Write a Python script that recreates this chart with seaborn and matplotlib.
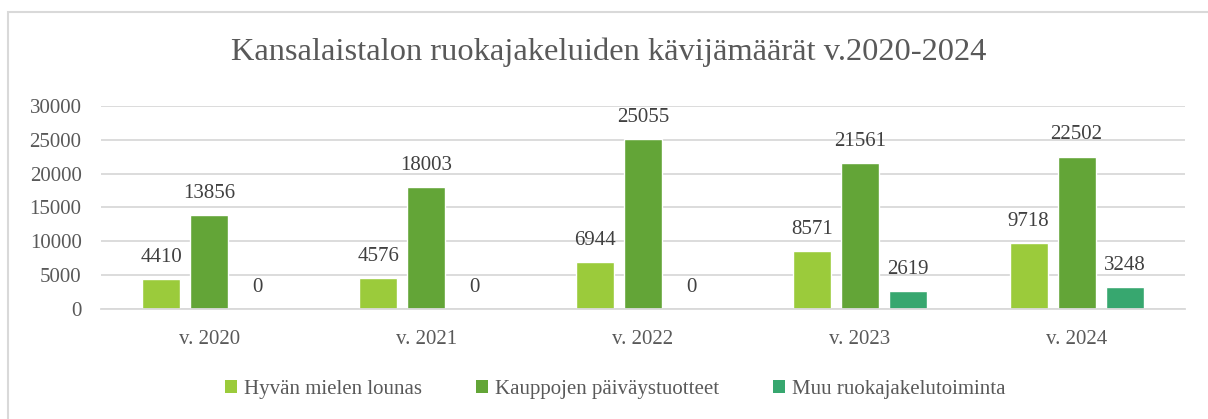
import matplotlib
matplotlib.use("Agg")
import matplotlib.pyplot as plt
import seaborn as sns
import pandas as pd
import numpy as np
from matplotlib.patches import Rectangle

years = ["v. 2020", "v. 2021", "v. 2022", "v. 2023", "v. 2024"]
series_names = ["Hyvän mielen lounas", "Kauppojen päiväystuotteet", "Muu ruokajakelutoiminta"]
lounas = [4410, 4576, 6944, 8571, 9718]
paivays = [13856, 18003, 25055, 21561, 22502]
muu = [0, 0, 0, 2619, 3248]
colors = ["#9BCB3B", "#63A537", "#37A76F"]
title = "Kansalaistalon ruokajakeluiden kävijämäärät v.2020-2024"

rows = []
for name, vals in zip(series_names, [lounas, paivays, muu]):
    for y, v in zip(years, vals):
        rows.append({"Vuosi": y, "Sarja": name, "Arvo": v})
df = pd.DataFrame(rows)

sns.set_theme(style="white")
plt.rcParams["font.family"] = ["Liberation Serif", "DejaVu Serif"]

W, H = 1208, 419
fig = plt.figure(figsize=(W / 100, H / 100), dpi=100)
ax = fig.add_axes([101 / W, 1 - 309 / H, (1185 - 101) / W, (309 - 106) / H])

sns.barplot(data=df, x="Vuosi", y="Arvo", hue="Sarja", hue_order=series_names,
            order=years, palette=colors, width=0.664, gap=0.21, ax=ax,
            errorbar=None, legend=False, saturation=1)

for cont in ax.containers:
    ax.bar_label(cont, labels=[f"{int(v)}" for v in cont.datavalues],
                 padding=9, fontsize=15, color="#404040")

ax.set_ylim(0, 30000)
ax.set_xlim(-0.5, 4.5)
ax.set_yticks(np.arange(0, 30001, 5000))
ax.yaxis.grid(True, color="#D9D9D9", linewidth=1.3)
ax.set_axisbelow(True)
for s in ["top", "right", "left"]:
    ax.spines[s].set_visible(False)
ax.spines["bottom"].set_color("#D9D9D9")
ax.spines["bottom"].set_linewidth(1.3)
ax.set_xlabel("")
ax.set_ylabel("")
ax.tick_params(axis="y", length=0, labelsize=15, labelcolor="#595959", pad=14)
ax.tick_params(axis="x", which="major", length=0, labelsize=15, labelcolor="#595959", pad=15)
ax.set_xticks(np.arange(-0.5, 5, 1.0), minor=True)
ax.tick_params(axis="x", which="minor", length=6, width=1.3, color="#D9D9D9")

fig.text(609 / W, 1 - 52 / H, title, ha="center", va="center",
         fontsize=23.4, color="#595959")

handles = [Rectangle((0, 0), 1, 1, facecolor=c, edgecolor="none") for c in colors]
fig.legend(handles, series_names, loc="center", bbox_to_anchor=(615 / W, 1 - 389 / H),
           ncol=3, frameon=False, fontsize=15, labelcolor="#595959",
           handlelength=0.6, handleheight=0.6, handletextpad=0.3, columnspacing=2.6)

fig.patches.append(Rectangle((8 / W, -0.05), 1.5, 1 - 12 / H + 0.05, transform=fig.transFigure,
                             facecolor="none", edgecolor="#D9D9D9", linewidth=1.5))

fig.savefig("out.png", dpi=100)
